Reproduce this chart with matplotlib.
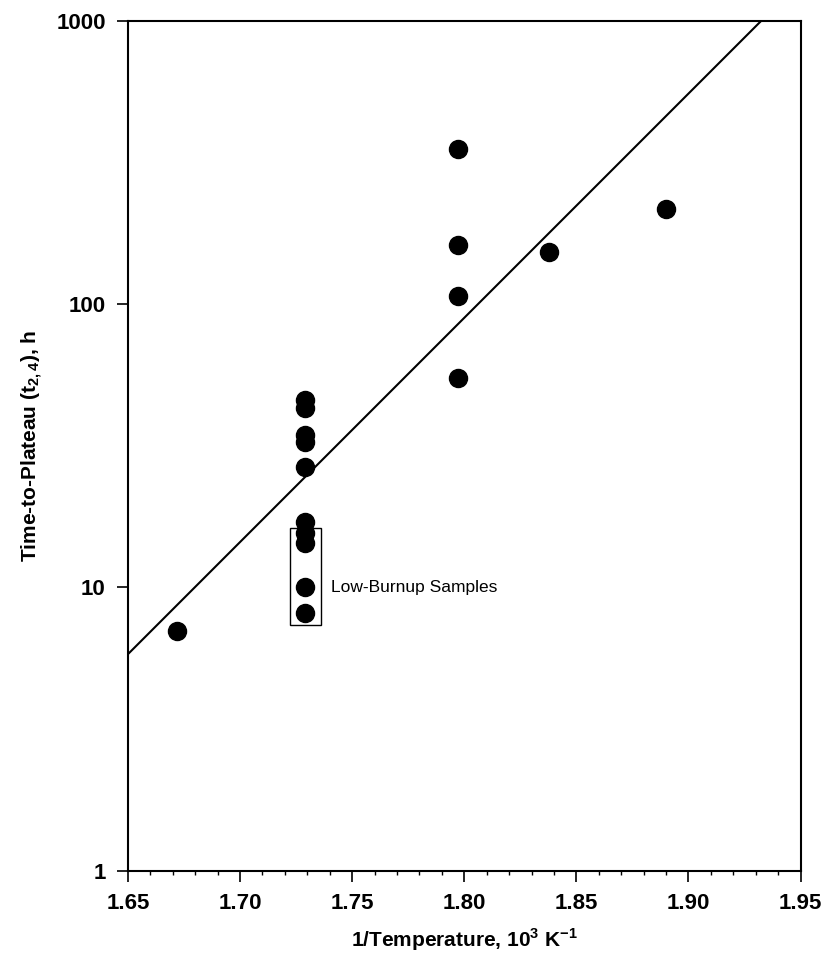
import matplotlib
matplotlib.use("Agg")
import matplotlib.pyplot as plt
from matplotlib.ticker import MultipleLocator, FixedLocator, FixedFormatter, NullLocator
from matplotlib.patches import Rectangle

plt.rcParams['font.family'] = ['Liberation Sans', 'DejaVu Sans']
plt.rcParams['mathtext.fontset'] = 'custom'
plt.rcParams['mathtext.rm'] = 'Liberation Sans'
plt.rcParams['mathtext.bf'] = 'Liberation Sans:bold'

# measured points (1/T in 10^3 K^-1, time-to-plateau in h)
inv_temp = [1.672,
            1.729, 1.729, 1.729, 1.729, 1.729,
            1.729, 1.729, 1.729, 1.729, 1.729,
            1.797, 1.797, 1.797, 1.797,
            1.838, 1.890]
t_plateau = [7.0,
             46, 43, 34.5, 32.5, 26.6,
             17.0, 15.6, 14.3, 10.0, 8.1,
             352, 161, 107, 55,
             153, 216]

# fitted line endpoints
fit_x = [1.65, 1.9326]
fit_y = [5.82, 1000]

# low-burnup box (x0, x1, y0, y1)
box_x = [1.7223, 1.736]
box_y = [7.4, 16.2]

xticks = [1.65, 1.70, 1.75, 1.80, 1.85, 1.90, 1.95]
yticks = [1, 10, 100, 1000]

fig = plt.figure(figsize=(8.23, 9.64), dpi=100)
ax = fig.add_axes([0.1555, 0.0965, 0.8172, 0.8822])

ax.plot(fit_x, fit_y, color='black', lw=1.5)
ax.plot(inv_temp, t_plateau, 'o', color='black', ms=13, zorder=3)

ax.add_patch(Rectangle((box_x[0], box_y[0]), box_x[1] - box_x[0], box_y[1] - box_y[0],
                       fill=False, ec='black', lw=1.0))
ax.text(1.7406, 10.0, 'Low-Burnup Samples', fontsize=12.5, va='center', ha='left')

ax.set_yscale('log')
ax.set_xlim(1.65, 1.95)
ax.set_ylim(1, 1000)

ax.xaxis.set_major_locator(FixedLocator(xticks))
ax.xaxis.set_major_formatter(FixedFormatter(['%.2f' % v for v in xticks]))
ax.xaxis.set_minor_locator(MultipleLocator(0.01))
ax.yaxis.set_major_locator(FixedLocator(yticks))
ax.yaxis.set_major_formatter(FixedFormatter([str(v) for v in yticks]))
ax.yaxis.set_minor_locator(NullLocator())

ax.tick_params(axis='both', which='major', direction='out', length=8, width=1.2,
               labelsize=16, pad=8)
ax.tick_params(axis='x', which='minor', direction='out', length=3, width=1.0)
for lab in ax.get_xticklabels() + ax.get_yticklabels():
    lab.set_fontweight('bold')

for s in ax.spines.values():
    s.set_linewidth(1.5)

ax.set_xlabel(r'1/Temperature, 10$^\mathbf{3}$ K$^\mathbf{-1}$', fontsize=15,
              fontweight='bold', labelpad=9)
ax.set_ylabel(r'Time-to-Plateau (t$_\mathbf{2,4}$), h', fontsize=15,
              fontweight='bold', labelpad=8)

fig.savefig('out.png', dpi=100)
